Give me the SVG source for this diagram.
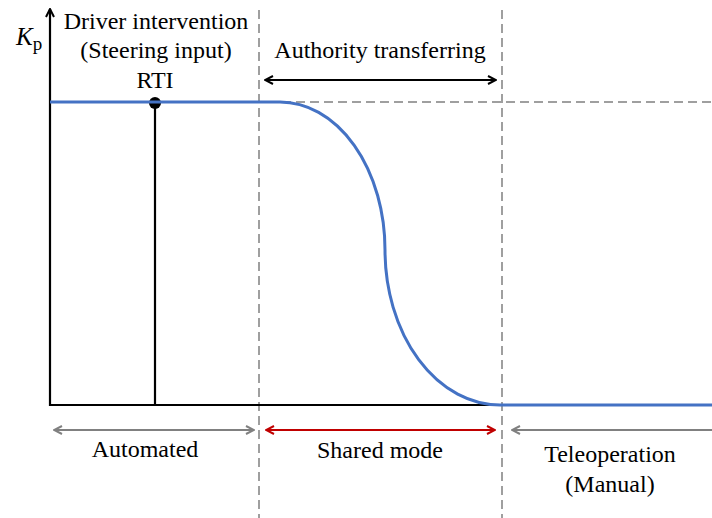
<svg xmlns="http://www.w3.org/2000/svg" width="712" height="518" viewBox="0 0 712 518">
<defs>
<marker id="hk" viewBox="0 0 10 10" refX="9" refY="5" markerWidth="10" markerHeight="10" markerUnits="userSpaceOnUse" orient="auto-start-reverse"><path d="M1,1 L9,5 L1,9" fill="none" stroke="#000" stroke-width="2"/></marker>
<marker id="hg" viewBox="0 0 10 10" refX="9" refY="5" markerWidth="10" markerHeight="10" markerUnits="userSpaceOnUse" orient="auto-start-reverse"><path d="M1,1 L9,5 L1,9" fill="none" stroke="#808080" stroke-width="2"/></marker>
<marker id="hr" viewBox="0 0 10 10" refX="9" refY="5" markerWidth="10" markerHeight="10" markerUnits="userSpaceOnUse" orient="auto-start-reverse"><path d="M1,1 L9,5 L1,9" fill="none" stroke="#C00000" stroke-width="2"/></marker>
<marker id="ax" viewBox="0 0 10 10" refX="5" refY="1" markerWidth="10" markerHeight="10" markerUnits="userSpaceOnUse" orient="0"><path d="M1,9 L5,1 L9,9" fill="none" stroke="#000" stroke-width="2"/></marker>
</defs>
<g id="guides" stroke="#808080" stroke-width="1.5" stroke-dasharray="9,5" fill="none">
<line x1="259" y1="10" x2="259" y2="518"/>
<line x1="502" y1="10" x2="502" y2="518"/>
<line x1="282" y1="102" x2="712" y2="102"/>
</g>
<g id="axes">
<line x1="50" y1="406" x2="50" y2="9" stroke="#000" stroke-width="2.2" marker-end="url(#ax)"/>
<line x1="49" y1="405" x2="500" y2="405" stroke="#000" stroke-width="2.2"/>
</g>
<g id="rti">
<line x1="155" y1="103" x2="155" y2="405" stroke="#000" stroke-width="2.2"/>
<circle cx="155" cy="103" r="6" fill="#000"/>
</g>
<g id="curve">
<path stroke="#4472C4" stroke-width="3" fill="none" d="M50,102 L280,102 A105,148 0 0 1 385,250 A115,155 0 0 0 500,405 L712,405"/>
</g>
<g id="connectors">
<line x1="265" y1="80" x2="496" y2="80" stroke="#000" stroke-width="2" marker-start="url(#hk)" marker-end="url(#hk)"/>
<line x1="54" y1="430" x2="254" y2="430" stroke="#808080" stroke-width="2" marker-start="url(#hg)" marker-end="url(#hg)"/>
<line x1="266" y1="430" x2="495" y2="430" stroke="#C00000" stroke-width="2" marker-start="url(#hr)" marker-end="url(#hr)"/>
<line x1="512" y1="430" x2="712" y2="430" stroke="#808080" stroke-width="2" marker-start="url(#hg)"/>
</g>
<g id="labels">
<text x="16" y="45" font-family="Liberation Serif" font-size="24"><tspan font-style="italic" font-size="25">K</tspan><tspan font-size="19" dy="5">p</tspan></text>
<text x="156" y="29" font-family="Liberation Serif" font-size="24" text-anchor="middle">Driver intervention</text>
<text x="156" y="58" font-family="Liberation Serif" font-size="24" text-anchor="middle">(Steering input)</text>
<text x="155" y="88" font-family="Liberation Serif" font-size="24" text-anchor="middle">RTI</text>
<text x="380" y="58" font-family="Liberation Serif" font-size="24" text-anchor="middle">Authority transferring</text>
<text x="145" y="457" font-family="Liberation Serif" font-size="24" text-anchor="middle">Automated</text>
<text x="380" y="458" font-family="Liberation Serif" font-size="24" text-anchor="middle">Shared mode</text>
<text x="610" y="462" font-family="Liberation Serif" font-size="24" text-anchor="middle">Teleoperation</text>
<text x="610" y="492" font-family="Liberation Serif" font-size="24" text-anchor="middle">(Manual)</text>
</g>
</svg>
